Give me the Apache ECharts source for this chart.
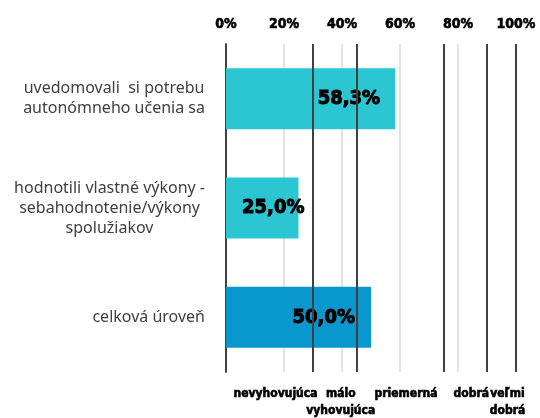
<!DOCTYPE html>
<html>
<head>
<meta charset="UTF-8">
<title></title>
<style type="text/css">
  html, body { margin: 0; padding: 0; background: #fff; }
  #chart { width: 540px; height: 418px; }
</style>
</head>
<body>
<div id="chart"></div>
<script src="https://cdn.jsdelivr.net/npm/echarts@6/dist/echarts.min.js"></script>
<script type="text/javascript">
var categories = [
  'uvedomovali  si potrebu\nautonómneho učenia sa',
  'hodnotili vlastné výkony -\nsebahodnotenie/výkony\nspolužiakov',
  'celková úroveň'
];
var values = [58.3, 25.0, 50.0];
var barColors = ['#2cc6d2', '#2cc6d2', '#0a97ce'];
var labelOffsets = [[-10, 0], [11, 0], [-11, 0]];
// hranice hodnotiacej škály
var levelLimits = [30, 45, 75, 90, 100];
var levelNames = ['nevyhovujúca', 'málo\nvyhovujúca', 'priemerná', 'dobrá', 'veľmi\ndobrá'];

var heavy = 'DejaVu Sans Condensed';

var barData = values.map(function (v, i) {
  return {
    value: v,
    itemStyle: { color: barColors[i] },
    label: { offset: labelOffsets[i] }
  };
});

var areas = levelNames.map(function (name, i) {
  var from = i === 0 ? 0 : levelLimits[i - 1];
  return [{ xAxis: from, name: name }, { xAxis: levelLimits[i] }];
});

var chart = echarts.init(document.getElementById('chart'));
chart.setOption({
  animation: false,
  grid: { left: 226, right: 24, top: 44, bottom: 46 },
  xAxis: {
    type: 'value',
    position: 'top',
    min: 0,
    max: 100,
    interval: 20,
    axisLine: { show: false },
    axisTick: { show: false },
    axisLabel: {
      formatter: '{value}%',
      color: '#000',
      fontFamily: heavy,
      fontWeight: 'bold',
      fontSize: 14,
      textBorderColor: '#000',
      textBorderWidth: 0.6,
      margin: 13
    },
    splitLine: { lineStyle: { color: '#d9d9d9', width: 1.5 } }
  },
  yAxis: {
    type: 'category',
    data: categories,
    inverse: true,
    axisLine: { lineStyle: { color: '#404040', width: 2 } },
    axisTick: { show: false },
    axisLabel: {
      formatter: function (v) { return '{c|' + v + '}'; },
      align: 'right',
      margin: 21,
      rich: {
        c: {
          align: 'center',
          color: '#404040',
          fontFamily: 'Noto Sans',
          fontSize: 16,
          lineHeight: 20
        }
      }
    }
  },
  series: [{
    type: 'bar',
    data: barData,
    barWidth: 61,
    label: {
      show: true,
      position: 'insideRight',
      formatter: function (p) { return p.value.toFixed(1).replace('.', ',') + '%'; },
      color: '#000',
      fontFamily: heavy,
      fontWeight: 'bold',
      fontSize: 20,
      textBorderColor: '#000',
      textBorderWidth: 1
    },
    markLine: {
      silent: true,
      symbol: 'none',
      label: { show: false },
      lineStyle: { color: '#404040', width: 2, type: 'solid' },
      data: levelLimits.map(function (v) { return { xAxis: v }; })
    },
    markArea: {
      silent: true,
      itemStyle: { color: 'rgba(0,0,0,0)' },
      label: {
        show: true,
        position: 'bottom',
        distance: 13,
        offset: [6, 0],
        color: '#000',
        fontFamily: heavy,
        fontWeight: 'bold',
        fontSize: 12,
        lineHeight: 17,
        textBorderColor: '#000',
        textBorderWidth: 0.6
      },
      data: areas
    }
  }]
});
</script>
</body>
</html>
